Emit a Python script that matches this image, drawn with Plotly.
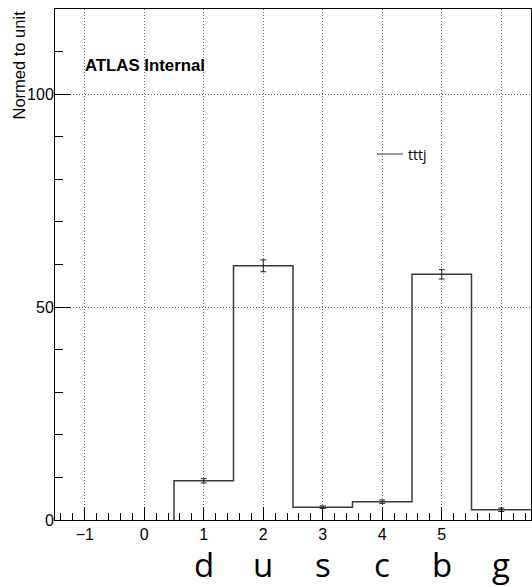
import plotly.graph_objects as go

# ---- data ----
bin_centers = [1, 2, 3, 4, 5, 6]
bin_values = [9.2, 59.7, 3.0, 4.3, 57.7, 2.4]
bin_errors = [0.5, 1.4, 0.3, 0.4, 1.1, 0.4]
flavour_labels = ["d", "u", "s", "c", "b", "g"]
x_tick_vals = [-1, 0, 1, 2, 3, 4, 5, 6]
x_tick_text = ["\u22121", "0", "1", "2", "3", "4", "5", ""]
y_tick_vals = [0, 50, 100]
series_name = "tttj"

# step outline built from bin edges (width 1)
step_x = [bin_centers[0] - 0.5] + [c - 0.5 for c in bin_centers] + [bin_centers[-1] + 0.5]
step_y = [0] + bin_values + [bin_values[-1]]

W, H = 532, 587
ML, MR, MT, MB = 55, 1, 9, 67
PW, PH = W - ML - MR, H - MT - MB


def px(xp):
    return (xp - ML) / PW


def py(yp):
    return (MT + PH - yp) / PH


fig = go.Figure()
fig.add_trace(go.Scatter(
    x=step_x, y=step_y, mode="lines", line_shape="hv",
    line=dict(color="#3a3a3a", width=1.5), name=series_name,
    showlegend=False, hoverinfo="skip"))
fig.add_trace(go.Scatter(
    x=bin_centers, y=bin_values, mode="markers",
    marker=dict(size=1, color="#222"),
    error_y=dict(type="data", array=bin_errors, color="#222", thickness=1, width=3),
    showlegend=False, name=series_name))

axis_font = dict(family="Liberation Sans, Arial, sans-serif", size=16, color="black")

fig.update_xaxes(
    range=[-1.5, 6.5], tickmode="array", tickvals=x_tick_vals, ticktext=x_tick_text,
    ticks="inside", ticklen=13, tickcolor="black", tickwidth=1,
    showline=True, linecolor="black", linewidth=1, mirror=True,
    showgrid=True, gridcolor="#666", gridwidth=1, griddash="1px,2px",
    zeroline=False, tickfont=axis_font,
    minor=dict(dtick=0.2, tick0=0, ticks="inside", ticklen=7, tickcolor="black", showgrid=False),
)
fig.update_yaxes(
    range=[0, 120], tickmode="array", tickvals=y_tick_vals,
    ticks="inside", ticklen=16, tickcolor="black", tickwidth=1,
    showline=True, linecolor="black", linewidth=1, mirror=True,
    showgrid=True, gridcolor="#666", gridwidth=1, griddash="1px,2px",
    zeroline=False, tickfont=axis_font, ticklabelstandoff=-3,
    minor=dict(dtick=10, tick0=0, ticks="inside", ticklen=8, tickcolor="black", showgrid=False),
)

shapes = [
    # legend box (white) covering grid
    dict(type="rect", xref="paper", yref="paper", x0=px(372), x1=px(521), y0=py(251), y1=py(56),
         fillcolor="white", line=dict(width=0), layer="between"),
    # legend line sample
    dict(type="line", xref="paper", yref="paper", x0=px(377), x1=px(403), y0=py(154), y1=py(154),
         line=dict(color="#777", width=1.5)),
]

annotations = [
    dict(text="ATLAS Internal", xref="paper", yref="paper", x=px(83), y=py(65),
         xanchor="left", yanchor="middle", showarrow=False,
         font=dict(family="Liberation Sans, Arial, sans-serif", size=16.8, color="black", weight="bold")),
    dict(text="Normed to unit", xref="paper", yref="paper", x=px(18), y=1.0,
         xanchor="center", yanchor="top", textangle=-90, showarrow=False,
         font=dict(family="Liberation Sans, Arial, sans-serif", size=16.5, color="black")),
    dict(text=series_name, xref="paper", yref="paper", x=px(406), y=py(154),
         xanchor="left", yanchor="middle", showarrow=False,
         font=dict(family="Open Sans, sans-serif", size=14, color="black")),
]
for c, lab in zip(bin_centers, flavour_labels):
    annotations.append(dict(text=lab, x=c, xref="x", y=0, yref="paper", yshift=-44,
                            xanchor="center", yanchor="middle", showarrow=False,
                            font=dict(family="Open Sans, sans-serif", size=33, color="black")))

fig.update_layout(
    width=W, height=H, margin=dict(l=ML, r=MR, t=MT, b=MB),
    paper_bgcolor="white", plot_bgcolor="white", showlegend=False,
    shapes=shapes, annotations=annotations,
)

fig.write_html("out.html")
